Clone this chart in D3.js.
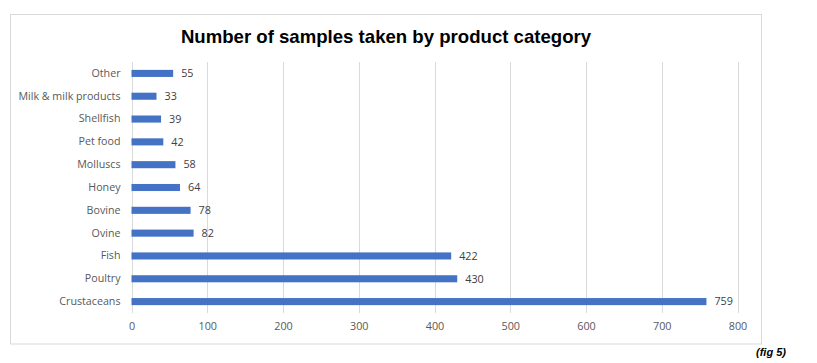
<!DOCTYPE html>
<html><head><meta charset="utf-8">
<script src="https://cdn.jsdelivr.net/npm/d3@7"></script>
<style>body{margin:0;background:#fff;} svg{display:block;}</style>
</head><body>
<script>
const categories = ["Other","Milk & milk products","Shellfish","Pet food","Molluscs","Honey","Bovine","Ovine","Fish","Poultry","Crustaceans"];
const values = [55,33,39,42,58,64,78,82,422,430,759];
const xTicks = [0,100,200,300,400,500,600,700,800];
const title = "Number of samples taken by product category";
const note = "(fig 5)";

const W = 817, H = 363;
const svg = d3.select("body").append("svg").attr("width", W).attr("height", H);
svg.append("rect").attr("x",10.5).attr("y",14.5).attr("width",751).attr("height",329.5)
  .attr("fill","#fff").attr("stroke","#d9d9d9").attr("stroke-width",1);

const x = d3.scaleLinear().domain([0,800]).range([131.5,737.5]);
const y = d3.scaleBand().domain(categories).range([62,313]).paddingInner(0.69).paddingOuter(0.345);

const font = "'Open Sans', 'Segoe UI', sans-serif";
// gridlines
svg.append("g").selectAll("line").data(xTicks).join("line")
  .attr("x1",d=>Math.round(x(d))+0.5).attr("x2",d=>Math.round(x(d))+0.5)
  .attr("y1",62).attr("y2",313).attr("stroke","#d9d9d9").attr("stroke-width",1);

// x axis labels
const xa = svg.append("g").attr("transform","translate(0,313)")
  .call(d3.axisBottom(x).tickValues(xTicks).tickSize(0).tickPadding(9));
xa.select(".domain").remove();
xa.selectAll("text").attr("font-family",font).attr("font-size",10.8).attr("fill","#595959");

// y axis labels
const ya = svg.append("g").attr("transform","translate(131.5,0)")
  .call(d3.axisLeft(y).tickSize(0).tickPadding(11));
ya.select(".domain").remove();
ya.selectAll("text").attr("font-family",font).attr("font-size",10.7).attr("fill","#595959");

// bars
svg.append("g").selectAll("rect").data(categories).join("rect")
  .attr("x",x(0)).attr("y",d=>y(d)).attr("height",y.bandwidth())
  .attr("width",(d,i)=>x(values[i])-x(0)).attr("fill","#4472C4");

// value labels
svg.append("g").selectAll("text").data(categories).join("text")
  .attr("x",(d,i)=>x(values[i])+8).attr("y",d=>y(d)+y.bandwidth()/2)
  .attr("dy","0.35em").attr("font-family",font).attr("font-size",10.8).attr("fill","#404040")
  .text((d,i)=>values[i]);

svg.append("text").attr("x",386).attr("y",43).attr("text-anchor","middle")
  .attr("font-family","'Liberation Sans', Arial, sans-serif").attr("font-weight","bold")
  .attr("font-size",18.6).attr("fill","#000").text(title);

svg.append("text").attr("x",786).attr("y",356).attr("text-anchor","end")
  .attr("font-family","'Liberation Sans', Arial, sans-serif").attr("font-weight","bold").attr("font-style","italic")
  .attr("font-size",11).attr("fill","#000").text(note);
</script>
</body></html>
